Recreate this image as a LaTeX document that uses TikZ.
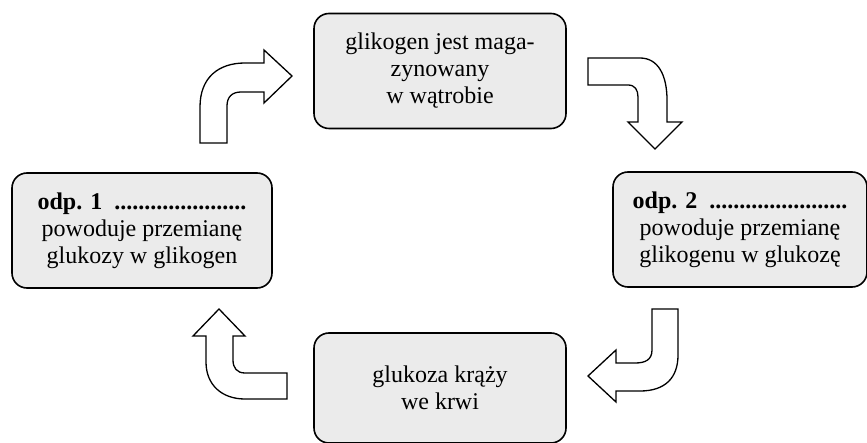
\documentclass[tikz,border=0pt]{standalone}
\usepackage{fontspec}
\setmainfont{Liberation Serif}
\tikzset{
    stagebox/.style={draw, line width=1.6pt, rounded corners=15pt, fill=gray!16,
        align=center, inner sep=0pt, minimum height=115pt,
        font=\fontsize{24}{27}\selectfont},
    bentarrow/.style={draw, line width=1.3pt, fill=white, line join=miter}
}
\begin{document}
\begin{tikzpicture}[x=1pt, y=-1pt]
    \useasboundingbox (0,0) rectangle (867,443);
    \node[stagebox, minimum width=252pt] (storage) at (440,71)
        {glikogen jest maga-\\zynowany\\w wątrobie};
    \node[stagebox, minimum width=254pt] (answer2) at (740,229.5)
        {\textbf{odp. 2\ \ .......................}\\powoduje przemianę\\glikogenu w glukozę};
    \node[stagebox, minimum width=252pt, minimum height=110pt] (blood) at (440,388)
        {glukoza krąży\\we krwi};
    \node[stagebox, minimum width=260pt] (answer1) at (142,230.5)
        {\textbf{odp. 1\ \ ......................}\\powoduje przemianę\\glukozy w glikogen};
    \draw[bentarrow] (200,143) -- (200,107)
        .. controls (200,78) and (218,63) .. (245,63) -- (264,63) -- (264,50)
        -- (292,76) -- (264,103) -- (264,92) -- (241,92)
        .. controls (232,92) and (227,97) .. (227,106) -- (227,143) -- cycle;
    \draw[bentarrow] (588,58) -- (640,58)
        .. controls (658,58) and (667,75) .. (667,100) -- (667,122) -- (682,122)
        -- (655,149) -- (628,122) -- (638,122) -- (638,97)
        .. controls (638,90) and (635,85) .. (628,85) -- (588,85) -- cycle;
    \draw[bentarrow] (652,309) -- (678,309) -- (678,355)
        .. controls (678,378) and (665,391) .. (640,391) -- (616,391) -- (616,402)
        -- (588,376) -- (616,350) -- (616,363) -- (635,363)
        .. controls (645,363) and (652,360) .. (652,350) -- cycle;
    \draw[bentarrow] (287,399) -- (245,399)
        .. controls (222,399) and (206,385) .. (206,362) -- (206,336) -- (193,336)
        -- (219,309) -- (245,336) -- (233,336) -- (233,360)
        .. controls (233,368) and (237,373) .. (245,373) -- (287,373) -- cycle;
\end{tikzpicture}
\end{document}
